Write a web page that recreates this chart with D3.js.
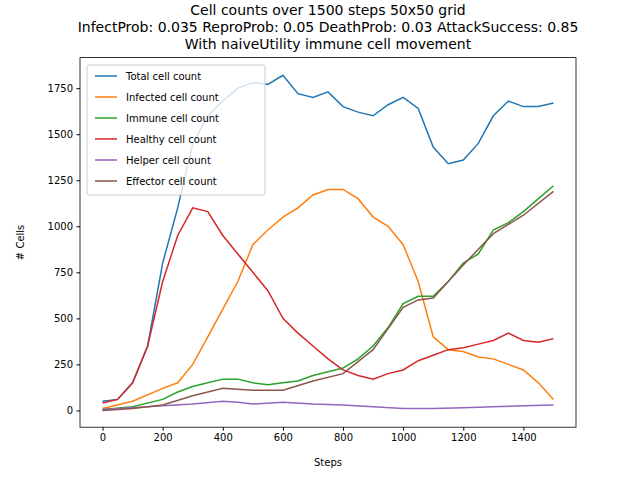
<!DOCTYPE html>
<html><head><meta charset="utf-8">
<script src="https://cdn.jsdelivr.net/npm/d3@7"></script>
<style>body{margin:0;background:#fff}text{font-family:"DejaVu Sans",sans-serif}</style>
</head><body><svg id="c" width="640" height="480"></svg>
<script>
const totalSteps = [0,50,100,150,200,250,300,350,400,450,500,550,600,650,700,750,800,850,900,950,1000,1050,1100,1150,1200,1250,1300,1350,1400,1450,1500];
const total = [50,60,150,350,800,1100,1450,1600,1680,1750,1780,1770,1820,1720,1700,1730,1650,1620,1600,1660,1700,1640,1430,1340,1360,1450,1600,1680,1650,1650,1670];
const infectedSteps = [0,100,200,250,300,350,400,450,500,550,600,650,700,750,800,850,900,950,1000,1050,1100,1150,1200,1250,1300,1350,1400,1450,1500];
const infected = [10,50,120,150,250,400,550,700,900,980,1050,1100,1170,1200,1200,1150,1050,1000,900,700,400,330,320,290,280,250,220,150,60];
const healthy = [40,60,150,350,700,950,1100,1080,950,850,750,650,500,420,350,280,220,190,170,200,220,270,300,330,340,360,380,420,380,370,390];
const immuneSteps = [0,100,200,250,300,350,400,450,500,550,600,650,700,750,800,850,900,950,1000,1050,1100,1150,1200,1250,1300,1350,1400,1450,1500];
const immune = [5,20,60,100,130,150,170,170,150,140,150,160,190,210,230,280,350,450,580,620,620,700,800,850,980,1020,1080,1150,1220];
const effectorSteps = [0,100,200,300,400,500,600,700,800,900,1000,1050,1100,1200,1300,1400,1500];
const effector = [0,10,30,80,120,110,110,160,200,330,560,600,610,790,960,1060,1190];
const helperSteps = [0,100,200,300,400,450,500,600,700,800,900,1000,1100,1200,1300,1400,1500];
const helper = [5,15,25,35,50,45,35,45,35,30,20,10,10,15,20,25,30];

const series = [
  {name:"Total cell count", xs:totalSteps, ys:total, color:"#1f77b4"},
  {name:"Infected cell count", xs:infectedSteps, ys:infected, color:"#ff7f0e"},
  {name:"Immune cell count", xs:immuneSteps, ys:immune, color:"#2ca02c"},
  {name:"Healthy cell count", xs:totalSteps, ys:healthy, color:"#d62728"},
  {name:"Helper cell count", xs:helperSteps, ys:helper, color:"#9467bd"},
  {name:"Effector cell count", xs:effectorSteps, ys:effector, color:"#8c564b"}
];

const svg = d3.select("#c");
const L = 80, R = 576, T = 57.6, B = 427.2;
const x = d3.scaleLinear().domain([-75, 1575]).range([L, R]);
const y = d3.scaleLinear().domain([-91, 1916]).range([B, T]);

svg.append("g").attr("transform", `translate(0,${B})`)
  .call(d3.axisBottom(x).tickValues([0,200,400,600,800,1000,1200,1400]).tickFormat(d3.format("d")).tickSize(3.5).tickPadding(3.5))
  .call(g => g.select(".domain").remove());
svg.append("g").attr("transform", `translate(${L},0)`)
  .call(d3.axisLeft(y).tickValues([0,250,500,750,1000,1250,1500,1750]).tickFormat(d3.format("d")).tickSize(3.5).tickPadding(3.5))
  .call(g => g.select(".domain").remove());
svg.selectAll(".tick text").attr("font-size", 10).attr("fill", "#000");

const line = d3.line().x(d => x(d[0])).y(d => y(d[1]));
series.forEach(s => {
  svg.append("path").datum(s.xs.map((v, i) => [v, s.ys[i]]))
    .attr("d", line).attr("fill", "none").attr("stroke", s.color).attr("stroke-width", 1.5);
});

svg.append("rect").attr("x", L).attr("y", T).attr("width", R - L).attr("height", B - T)
  .attr("fill", "none").attr("stroke", "#000").attr("stroke-width", 0.8);

const title = ["Cell counts over 1500 steps 50x50 grid",
  "InfectProb: 0.035 ReproProb: 0.05 DeathProb: 0.03 AttackSuccess: 0.85",
  "With naiveUtility immune cell movement"];
title.forEach((t, i) => svg.append("text").attr("x", (L + R) / 2).attr("y", 15 + i * 17)
  .attr("text-anchor", "middle").attr("font-size", 14).text(t));

svg.append("text").attr("x", (L + R) / 2).attr("y", 466).attr("text-anchor", "middle").attr("font-size", 10).text("Steps");
svg.append("text").attr("transform", `translate(24,${(T + B) / 2}) rotate(-90)`).attr("text-anchor", "middle").attr("font-size", 10).text("# Cells");

const lg = svg.append("g").attr("transform", "translate(87,65)");
lg.append("rect").attr("width", 178).attr("height", 130).attr("rx", 2).attr("fill", "#fff")
  .attr("fill-opacity", 0.8).attr("stroke", "#ccc");
series.forEach((s, i) => {
  const yy = 11 + i * 21;
  lg.append("line").attr("x1", 8).attr("x2", 30).attr("y1", yy).attr("y2", yy).attr("stroke", s.color).attr("stroke-width", 1.5);
  lg.append("text").attr("x", 39).attr("y", yy + 4).attr("font-size", 10).text(s.name);
});
</script></body></html>
